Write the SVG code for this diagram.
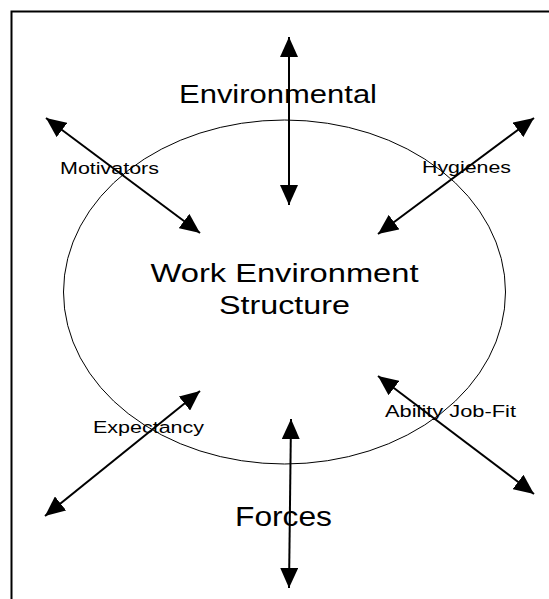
<svg xmlns="http://www.w3.org/2000/svg" width="549" height="599" viewBox="0 0 549 599">
<style>
.t{font-family:"Liberation Sans",Arial,sans-serif;fill:#000}
.big{font-size:25px}
.sm{font-size:16px}
.arr{stroke:#000;stroke-width:2;fill:none;marker-start:url(#ah);marker-end:url(#ah)}
</style>
<defs>
<marker id="ah" viewBox="0 0 20 18" refX="20" refY="9" markerWidth="20" markerHeight="18" markerUnits="userSpaceOnUse" orient="auto-start-reverse">
<path d="M0,0 L20,9 L0,18 z" fill="#000"/>
</marker>
</defs>
<rect width="549" height="599" fill="#fff"/>
<rect x="11.5" y="11.5" width="600" height="650" fill="none" stroke="#000" stroke-width="2"/>
<g id="structure">
<ellipse cx="284.5" cy="292" rx="221" ry="172" fill="none" stroke="#000" stroke-width="1"/>
<text class="t big" x="150.5" y="282" textLength="268" lengthAdjust="spacingAndGlyphs">Work Environment</text>
<text class="t big" x="219" y="314" textLength="131" lengthAdjust="spacingAndGlyphs">Structure</text>
</g>
<g id="environmental"><text class="t big" x="179" y="103" textLength="198" lengthAdjust="spacingAndGlyphs">Environmental</text></g>
<g id="forces"><text class="t" style="font-size:27px" x="235" y="526" textLength="97" lengthAdjust="spacingAndGlyphs">Forces</text></g>
<g id="motivators"><text class="t sm" x="60" y="174" textLength="99" lengthAdjust="spacingAndGlyphs">Motivators</text></g>
<g id="hygienes"><text class="t sm" x="422" y="173" textLength="89" lengthAdjust="spacingAndGlyphs">Hygienes</text></g>
<g id="expectancy"><text class="t sm" x="93" y="433" textLength="111" lengthAdjust="spacingAndGlyphs">Expectancy</text></g>
<g id="ability"><text class="t sm" x="385" y="417" textLength="131" lengthAdjust="spacingAndGlyphs">Ability Job-Fit</text></g>
<g id="connectors">
<line class="arr" x1="289" y1="37" x2="289" y2="205"/>
<line class="arr" x1="291" y1="419" x2="289" y2="588"/>
<line class="arr" x1="46" y1="118" x2="200" y2="233"/>
<line class="arr" x1="534" y1="118" x2="378" y2="234"/>
<line class="arr" x1="200" y1="391" x2="45" y2="516"/>
<line class="arr" x1="378" y1="376" x2="534" y2="494"/>
</g>
</svg>
